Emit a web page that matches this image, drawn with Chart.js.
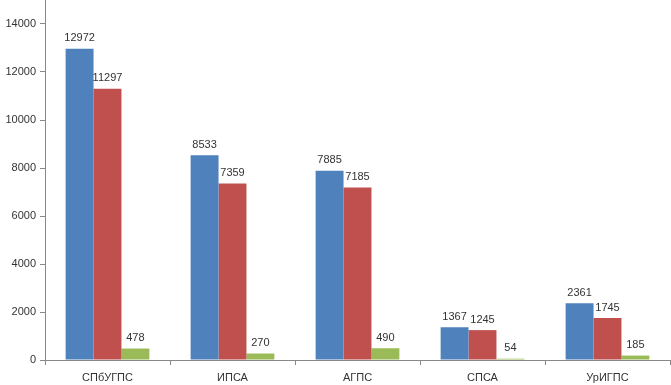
<!DOCTYPE html>
<html>
<head>
<meta charset="utf-8">
<script src="https://cdn.jsdelivr.net/npm/chart.js@4/dist/chart.umd.min.js"></script>
<style>
  html, body { margin: 0; padding: 0; background: #fff; }
  #wrap { width: 671px; height: 385px; }
</style>
</head>
<body>
<div id="wrap"><canvas id="chart" width="671" height="385"></canvas></div>
<script>
const categories = ["СПбУГПС", "ИПСА", "АГПС", "СПСА", "УрИГПС"];
const seriesBlue = [12972, 8533, 7885, 1367, 2361];
const seriesRed = [11297, 7359, 7185, 1245, 1745];
const seriesGreen = [478, 270, 490, 54, 185];
const yTicks = [0, 2000, 4000, 6000, 8000, 10000, 12000, 14000];

const FONT = "'Liberation Sans', Arial, sans-serif";

// value labels above each bar
const barLabels = {
    id: "barLabels",
    afterDatasetsDraw(chart) {
        const ctx = chart.ctx;
        ctx.save();
        ctx.font = "11px " + FONT;
        ctx.fillStyle = "#333";
        ctx.textAlign = "center";
        ctx.textBaseline = "bottom";
        chart.data.datasets.forEach((ds, i) => {
            chart.getDatasetMeta(i).data.forEach((bar, j) => {
                ctx.fillText(String(ds.data[j]), bar.x, bar.y - 5);
            });
        });
        ctx.restore();
    }
};

new Chart(document.getElementById("chart"), {
    type: "bar",
    data: {
        labels: categories,
        datasets: [
            { data: seriesBlue, backgroundColor: "#4F81BD" },
            { data: seriesRed, backgroundColor: "#C0504D" },
            { data: seriesGreen, backgroundColor: "#9BBB59" },
        ].map(d => ({ ...d, barPercentage: 1, categoryPercentage: 0.67 }))
    },
    options: {
        responsive: false,
        animation: false,
        layout: { padding: { top: 0, right: 1, bottom: 0, left: 0 } },
        plugins: {
            legend: { display: false },
            tooltip: { enabled: false }
        },
        scales: {
            x: {
                grid: { drawOnChartArea: false, color: "#888", tickLength: 5 },
                border: { color: "#888" },
                ticks: { color: "#333", font: { family: FONT, size: 11 }, padding: 6, maxRotation: 0 },
                afterFit: s => { s.height = 25; }
            },
            y: {
                min: 0,
                max: 15000,
                grid: { drawOnChartArea: false, color: "#888", tickLength: 5 },
                border: { color: "#888" },
                ticks: {
                    color: "#333", font: { family: FONT, size: 11 }, padding: 4,
                    callback: v => String(v)
                },
                afterBuildTicks: s => { s.ticks = yTicks.map(v => ({ value: v })); },
                afterFit: s => { s.width = 45; s.paddingTop = 0; s.paddingBottom = 0; }
            }
        }
    },
    plugins: [barLabels]
});
</script>
</body>
</html>
